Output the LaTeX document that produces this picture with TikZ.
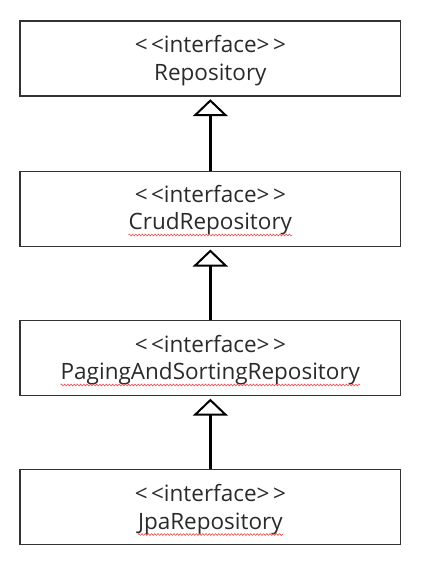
\documentclass[tikz,border=0pt]{standalone}
\usepackage{fontspec}
\setmainfont{Open Sans}
\usetikzlibrary{arrows.meta,calc,decorations.pathmorphing}

\definecolor{boxline}{HTML}{333333}
\definecolor{txt}{HTML}{2A2A2A}
\definecolor{spell}{HTML}{F04848}

\tikzset{
  ifacebox/.style={draw=boxline, line width=1.4pt, minimum width=380.7pt,
    minimum height=75pt, inner sep=0pt},
  stereo/.style={anchor=base, inner sep=0pt, text=txt,
    font=\fontsize{22.5pt}{26pt}\selectfont},
  tname/.style={anchor=base, inner sep=0pt, text=txt,
    font=\fontsize{22.5pt}{26pt}\selectfont},
  inherit/.style={line width=2.4pt, draw=black,
    -{Triangle[open, length=17pt, width=35pt, line width=2pt]}, shorten >=2.5pt},
  squiggle/.style={draw=spell, line width=0.6pt,
    decorate, decoration={snake, amplitude=0.9pt, segment length=3.2pt}}
}

\newcommand{\stereotext}{<\kern3.5pt<interface>\kern3.5pt>}

\begin{document}
\begin{tikzpicture}[x=1pt, y=-1pt]
  \useasboundingbox (0,0) rectangle (436,566);

  % interface boxes
  \node[ifacebox] (repo)   at (210.35, 58.5)  {};
  \node[ifacebox] (crud)   at (210.35, 208.8) {};
  \node[ifacebox] (paging) at (210.35, 358)   {};
  \node[ifacebox] (jpa)    at (210.35, 507.2) {};

  % stereotype and name of each interface
  \node[stereo] (repoS)   at (210.35, 52.5)  {\stereotext};
  \node[tname]  (repoN)   at (210.35, 80)    {Repository};
  \node[stereo] (crudS)   at (210.35, 202.5) {\stereotext};
  \node[tname]  (crudN)   at (210.35, 229.5) {CrudRepository};
  \node[stereo] (pagingS) at (210.35, 352)   {\stereotext};
  \node[tname]  (pagingN) at (210.35, 379.5) {PagingAndSortingRepository};
  \node[stereo] (jpaS)    at (210.35, 501)   {\stereotext};
  \node[tname]  (jpaN)    at (210.35, 529)   {JpaRepository};

  % spell-check underlines
  \foreach \n in {crudN, pagingN, jpaN} {
    \draw[squiggle] ($(\n.base west)+(0,5.5)$) -- ($(\n.base east)+(0,5.5)$);
  }

  % generalization arrows
  \draw[inherit] (crud.north)   -- (repo.south);
  \draw[inherit] (paging.north) -- (crud.south);
  \draw[inherit] (jpa.north)    -- (paging.south);
\end{tikzpicture}
\end{document}
